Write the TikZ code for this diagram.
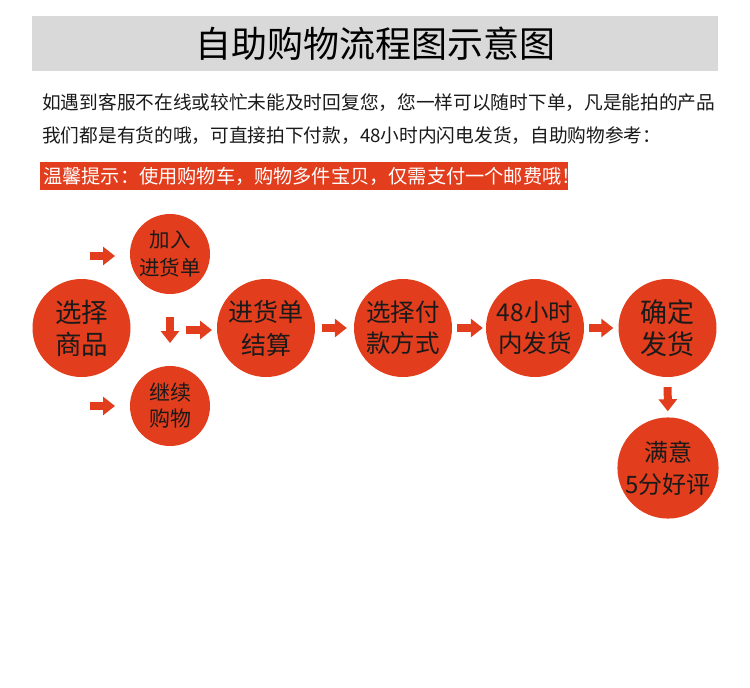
\documentclass[tikz,border=0pt]{standalone}
\usepackage{fontspec}
\setmainfont{Noto Sans CJK SC}
\usetikzlibrary{arrows.meta}
\definecolor{orangered}{HTML}{E23D1C}
\definecolor{bargray}{HTML}{D9D9D9}
\definecolor{ink}{HTML}{1A1A1A}
\begin{document}
\begin{tikzpicture}[x=1pt,y=-1pt,
  bigcirc/.style={circle,fill=orangered,minimum size=98pt,inner sep=0pt,align=center,text=ink,font=\fontsize{26}{32}\selectfont},
  smallcirc/.style={circle,fill=orangered,minimum size=80pt,inner sep=0pt,align=center,text=ink,font=\fontsize{20.5}{27}\selectfont},
  blockarrow/.style={draw=orangered,line width=8pt,-{Triangle[width=18pt,length=12pt]}},
  bodytext/.style={anchor=west,inner sep=0pt,text=ink,font=\fontsize{18.7}{22}\selectfont}]
\useasboundingbox (0,0) rectangle (750,688);
\fill[white] (0,0) rectangle (750,688);
% title bar
\node[fill=bargray,minimum width=686pt,minimum height=55pt,inner sep=0pt,text=black,
  font=\fontsize{36}{40}\selectfont] (title) at (375,43.5) {自助购物流程图示意图};
% body text
\node[bodytext] (line1) at (42,103) {如遇到客服不在线或较忙未能及时回复您，您一样可以随时下单，凡是能拍的产品};
\node[bodytext] (line2) at (42,136) {我们都是有货的哦，可直接拍下付款，48小时内闪电发货，自助购物参考：};
\node[anchor=west,fill=orangered,minimum height=28pt,inner xsep=3pt,inner ysep=0pt,text=white,
  font=\fontsize{19.2}{22}\selectfont\addfontfeature{Kerning=Off}] (tip) at (40,176)
  {\makebox[522pt][l]{温馨提示：使用购物车，购物多件宝贝，仅需支付一个邮费哦！}};
% circles
\node[bigcirc,font=\fontsize{26.5}{32}\selectfont] (xzsp) at (81.5,328) {选择\\商品};
\node[smallcirc,font=\fontsize{20.5}{28}\selectfont] (jrjhd) at (170,254) {加入\\进货单};
\node[smallcirc,font=\fontsize{21}{26}\selectfont] (jxgw) at (170,406) {继续\\购物};
\node[bigcirc,font=\fontsize{25}{33}\selectfont] (jhdjs) at (266,328) {进货单\\结算};
\node[bigcirc,font=\fontsize{24.5}{31}\selectfont] (xzfk) at (403,328) {选择付\\款方式};
\node[bigcirc,font=\fontsize{24.5}{31}\selectfont] (fh48) at (535,328) {48小时\\内发货};
\node[bigcirc,font=\fontsize{27}{32}\selectfont] (qdfh) at (667.5,328) {确定\\发货};
\node[bigcirc,font=\fontsize{24}{32}\selectfont] (myhp) at (668,468) {满意\\5分好评};
% free arrow ends
\coordinate (a1s) at (90,256);  \coordinate (a1e) at (115,256);
\coordinate (a2s) at (90,406);  \coordinate (a2e) at (115,406);
\coordinate (a3s) at (170,317); \coordinate (a3e) at (170,343);
\coordinate (a4s) at (186,330); \coordinate (a4e) at (212,330);
% arrows
\draw[blockarrow] (a1s) -- (a1e);
\draw[blockarrow] (a2s) -- (a2e);
\draw[blockarrow] (a3s) -- (a3e);
\draw[blockarrow] (a4s) -- (a4e);
\draw[blockarrow,shorten <=7pt,shorten >=7pt] (jhdjs) -- (xzfk);
\draw[blockarrow,shorten <=5pt,shorten >=3pt] (xzfk) -- (fh48);
\draw[blockarrow,shorten <=5pt,shorten >=5pt] (fh48) -- (qdfh);
\draw[blockarrow,shorten <=10pt,shorten >=6pt] (qdfh) -- (myhp);
\end{tikzpicture}
\end{document}
